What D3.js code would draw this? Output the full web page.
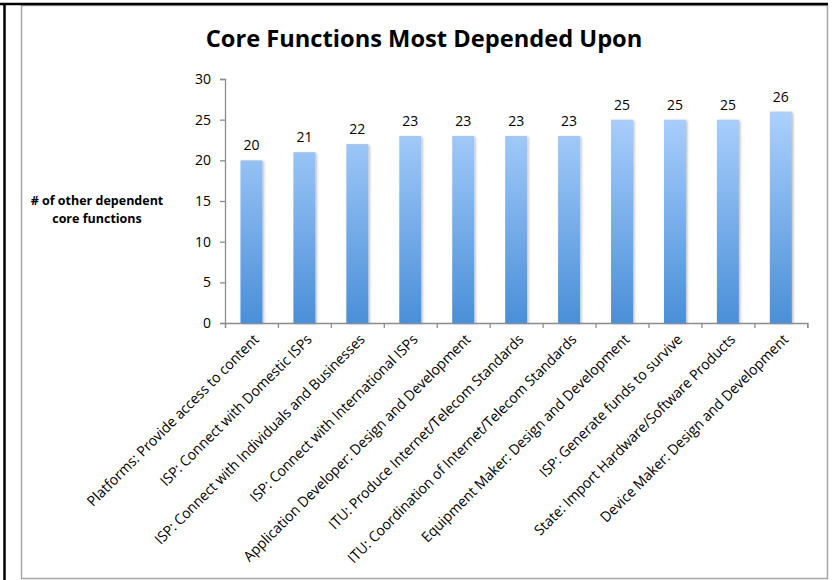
<!DOCTYPE html>
<html><head><meta charset="utf-8">
<script src="https://cdn.jsdelivr.net/npm/d3@7"></script>
<style>body{margin:0;background:#fff}svg{display:block}</style>
</head><body><svg id="c" width="837" height="580"></svg>
<script>
const categories = [
  "Platforms: Provide access to content",
  "ISP: Connect with Domestic ISPs",
  "ISP: Connect with Individuals and Businesses",
  "ISP: Connect with International ISPs",
  "Application Developer: Design and Development",
  "ITU: Produce Internet/Telecom Standards",
  "ITU: Coordination of Internet/Telecom Standards",
  "Equipment Maker: Design and Development",
  "ISP: Generate funds to survive",
  "State: Import Hardware/Software Products",
  "Device Maker: Design and Development"
];
const values = [20, 21, 22, 23, 23, 23, 23, 25, 25, 25, 26];
const yTicks = [0, 5, 10, 15, 20, 25, 30];
const titleText = "Core Functions Most Depended Upon";
const yLabelLines = ["# of other dependent", "core functions"];

const svg = d3.select("#c");
const FONT = "'Open Sans', sans-serif";

// outer page borders
svg.append("rect").attr("x",21.5).attr("y",5.5).attr("width",806).attr("height",573)
  .attr("fill","#fff").attr("stroke","#a6a6a6").attr("stroke-width",1.5);
svg.append("line").attr("x1",0).attr("x2",828).attr("y1",4).attr("y2",4).attr("stroke","#000").attr("stroke-width",2.5);
svg.append("line").attr("x1",4.5).attr("x2",4.5).attr("y1",3).attr("y2",580).attr("stroke","#000").attr("stroke-width",2.5);

const defs = svg.append("defs");
const y = d3.scaleLinear().domain([0,30]).range([323,79]);
const grad = defs.append("linearGradient").attr("id","bg").attr("gradientUnits","userSpaceOnUse")
  .attr("x1",0).attr("x2",0).attr("y1", y(26)).attr("y2", y(0));
grad.append("stop").attr("offset","0%").attr("stop-color","#abd0fd");
grad.append("stop").attr("offset","100%").attr("stop-color","#4a8fd8");
const f = defs.append("filter").attr("id","sh").attr("x","-20%").attr("y","-5%").attr("width","150%").attr("height","115%");
f.append("feDropShadow").attr("dx",1.5).attr("dy",1).attr("stdDeviation",1.2).attr("flood-color","#000").attr("flood-opacity",0.25);

const x = d3.scaleBand().domain(categories).range([225, 807.3]).paddingInner(0.585).paddingOuter(0.2925);
const xb = d3.scaleLinear().domain([0, categories.length]).range([225, 807.3]);

// title
const title = svg.append("text").attr("x",424).attr("y",47.5).attr("text-anchor","middle")
  .attr("font-family",FONT).attr("font-weight",700).attr("font-size",22.5).attr("fill","#000").text(titleText);

// bars
svg.append("g").selectAll("rect").data(values).join("rect")
  .attr("x",(d,i)=>x(categories[i])).attr("width",x.bandwidth())
  .attr("y",d=>y(d)).attr("height",d=>y(0)-y(d))
  .attr("fill","url(#bg)").attr("filter","url(#sh)");

// y axis
const ya = svg.append("g").attr("transform","translate(225,0)")
  .call(d3.axisLeft(y).tickValues(yTicks).tickSize(5).tickPadding(9));
ya.select(".domain").attr("stroke","#8c8c8c").attr("stroke-width",1.3);
ya.selectAll(".tick line").attr("stroke","#8c8c8c").attr("stroke-width",1.3);
ya.selectAll(".tick text").attr("font-family",FONT).attr("font-size",14).attr("fill","#000");

// x axis
const xa = svg.append("g").attr("transform","translate(0,323)")
  .call(d3.axisBottom(xb).tickValues(d3.range(categories.length+1)).tickSize(5).tickFormat(""));
xa.select(".domain").attr("stroke","#8c8c8c").attr("stroke-width",1.3);
xa.selectAll(".tick line").attr("stroke","#8c8c8c").attr("stroke-width",1.3);

// value labels
svg.append("g").selectAll("text").data(values).join("text")
  .attr("x",(d,i)=>x(categories[i])+x.bandwidth()/2).attr("y",d=>y(d)-10)
  .attr("text-anchor","middle").attr("font-family",FONT).attr("font-size",14).attr("fill","#000")
  .text(d=>d);

// category labels
const cl = svg.append("g").selectAll("text").data(categories).join("text")
  .attr("text-anchor","end").attr("dy","0.72em")
  .attr("font-family",FONT).attr("font-size",14.5).attr("fill","#000").text(d=>d);
const l0 = cl.node().getComputedTextLength();
const SQ = 236 / l0;
cl.attr("transform",d=>`translate(${x(d)+x.bandwidth()/2+1},${333}) rotate(-45) scale(${SQ},1)`);

// y label
svg.append("text").attr("x",97).attr("y",205).attr("text-anchor","middle")
  .attr("font-family",FONT).attr("font-weight",700).attr("font-size",12.5).attr("fill","#000")
  .selectAll("tspan").data(yLabelLines).join("tspan").attr("x",97).attr("dy",(d,i)=>i?18:0).text(d=>d);

// condense title to reference width
const tw = title.node().getComputedTextLength();
title.attr("transform",`translate(424,0) scale(${437/tw},1) translate(-424,0)`);
</script></body></html>
